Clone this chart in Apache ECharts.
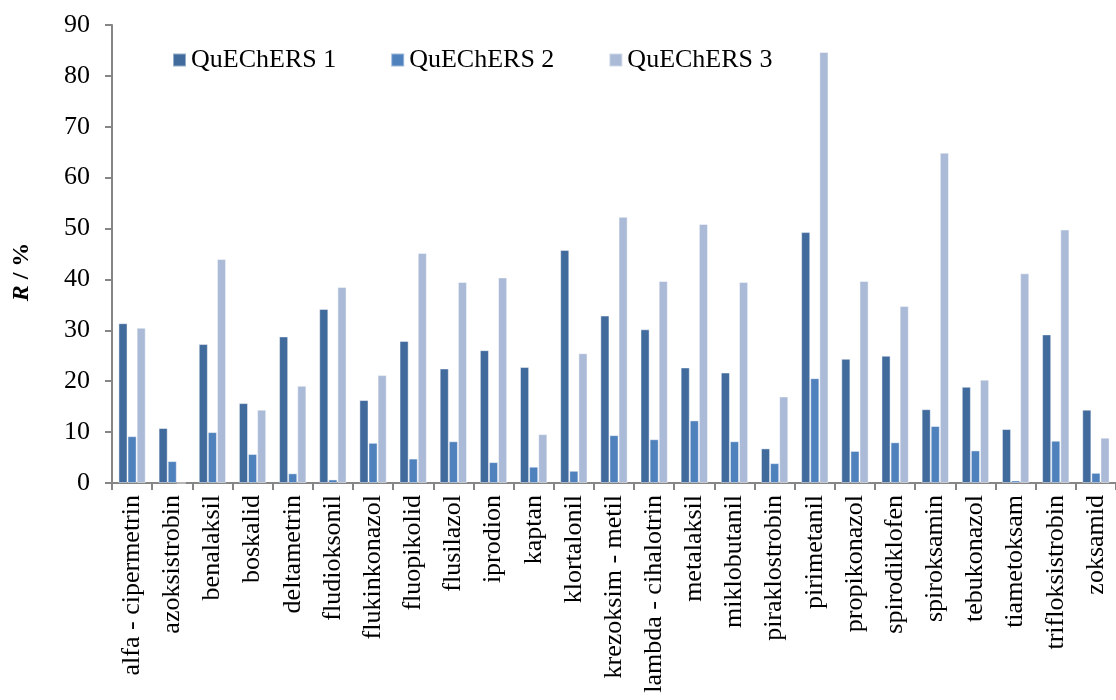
<!DOCTYPE html>
<html>
<head>
<meta charset="utf-8">
<script src="https://cdn.jsdelivr.net/npm/echarts@6/dist/echarts.min.js"></script>
<style>
  html, body { margin: 0; padding: 0; background: #ffffff; }
  #chart { width: 1116px; height: 700px; }
</style>
</head>
<body>
<div id="chart"></div>
<script>
// Recovery (R, %) of each pesticide for the three QuEChERS procedures
const categories = [
  'alfa - cipermetrin', 'azoksistrobin', 'benalaksil', 'boskalid', 'deltametrin',
  'fludioksonil', 'flukinkonazol', 'fluopikolid', 'flusilazol', 'iprodion',
  'kaptan', 'klortalonil', 'krezoksim - metil', 'lambda - cihalotrin', 'metalaksil',
  'miklobutanil', 'piraklostrobin', 'pirimetanil', 'propikonazol', 'spirodiklofen',
  'spiroksamin', 'tebukonazol', 'tiametoksam', 'trifloksistrobin', 'zoksamid'
];
const seriesNames = ['QuEChERS 1', 'QuEChERS 2', 'QuEChERS 3'];
const quechers1 = [31.4, 10.8, 27.3, 15.7, 28.8, 34.2, 16.3, 27.9, 22.5, 26.1,
                   22.8, 45.8, 32.9, 30.2, 22.7, 21.7, 6.8, 49.3, 24.4, 25.0,
                   14.5, 18.9, 10.6, 29.2, 14.4];
const quechers2 = [9.2, 4.3, 10.0, 5.7, 1.9, 0.7, 7.9, 4.8, 8.2, 4.1,
                   3.2, 2.4, 9.4, 8.6, 12.3, 8.2, 3.9, 20.6, 6.3, 8.0,
                   11.2, 6.4, 0.5, 8.3, 2.0];
const quechers3 = [30.5, 0, 44.0, 14.4, 19.1, 38.5, 21.2, 45.2, 39.5, 40.4,
                   9.6, 25.5, 52.3, 39.7, 50.9, 39.5, 17.0, 84.7, 39.7, 34.8,
                   64.9, 20.3, 41.2, 49.8, 8.9];
const yTicks = { min: 0, max: 90, interval: 10 };

const colors = ['#416a9d', '#4f81bd', '#aabad7'];
const serif = "'Liberation Serif', 'Times New Roman', serif";
const axisGray = '#868686';

const chart = echarts.init(document.getElementById('chart'), null, { renderer: 'canvas' });

const values = [quechers1, quechers2, quechers3];
const series = seriesNames.map((name, i) => ({
  name: name,
  type: 'bar',
  data: values[i],
  barGap: '0%',
  barCategoryGap: '32%',
  itemStyle: { color: colors[i], borderColor: 'rgba(255,255,255,0.45)', borderWidth: 1 },
  emphasis: { disabled: true }
}));

chart.setOption({
  backgroundColor: '#ffffff',
  animation: false,
  color: colors,
  textStyle: { fontFamily: serif },
  grid: { left: 112, top: 25, width: 1017, bottom: 217, containLabel: false },
  legend: {
    data: seriesNames,
    left: 167,
    top: 42,
    icon: 'rect',
    itemWidth: 13,
    itemHeight: 13,
    itemGap: 54,
    textStyle: { fontFamily: serif, fontSize: 26, color: '#000' }
  },
  xAxis: {
    type: 'category',
    data: categories,
    axisLine: { lineStyle: { color: axisGray, width: 2 } },
    axisTick: { show: true, alignWithLabel: false, length: 7, lineStyle: { color: axisGray, width: 2 } },
    axisLabel: { interval: 0, rotate: 90, margin: 12, fontFamily: serif, fontSize: 26, color: '#000' }
  },
  yAxis: {
    type: 'value',
    min: yTicks.min,
    max: yTicks.max,
    interval: yTicks.interval,
    name: '{i|R} / %',
    nameLocation: 'middle',
    nameRotate: 90,
    nameGap: 78,
    nameTextStyle: {
      fontFamily: serif, fontSize: 24, fontWeight: 'bold', color: '#000',
      padding: [0, 36, 0, 0],
      rich: { i: { fontFamily: serif, fontSize: 24, fontWeight: 'bold', fontStyle: 'italic', color: '#000' } }
    },
    splitLine: { show: false },
    axisLine: { show: true, lineStyle: { color: axisGray, width: 2 } },
    axisTick: { show: true, length: 7, lineStyle: { color: axisGray, width: 2 } },
    axisLabel: { margin: 22, fontFamily: serif, fontSize: 26, color: '#000' }
  },
  series: series
});
</script>
</body>
</html>
